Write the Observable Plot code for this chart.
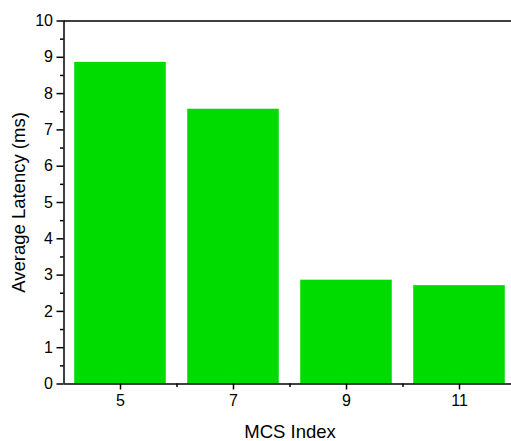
<!DOCTYPE html>
<html>
<head>
<meta charset="utf-8">
<script src="https://cdn.jsdelivr.net/npm/d3@7"></script>
<script src="https://cdn.jsdelivr.net/npm/@observablehq/plot@0.6"></script>
<style>
  html, body { margin: 0; padding: 0; background: #fff; overflow: hidden; }
  svg { display: block; }
</style>
</head>
<body>
<div id="chart"></div>
<script>
const mcsIndex = [5, 7, 9, 11];
const avgLatency = [8.86, 7.57, 2.86, 2.71];
const yMajorTicks = [0, 1, 2, 3, 4, 5, 6, 7, 8, 9, 10];
const yMinorTicks = [0.5, 1.5, 2.5, 3.5, 4.5, 5.5, 6.5, 7.5, 8.5, 9.5];
const xMajorTicks = [5, 7, 9, 11];
const xMinorTicks = [6, 8, 10];
const xTitle = "MCS Index";
const yTitle = "Average Latency (ms)";

const data = mcsIndex.map((m, i) => ({mcs: m, latency: avgLatency[i]}));
const halfWidth = 0.81;

const chart = Plot.plot({
  width: 511,
  height: 441,
  marginLeft: 63.5,
  marginRight: -4.5,
  marginTop: 20.5,
  marginBottom: 57.5,
  style: {fontFamily: "'Liberation Sans', Arial, sans-serif", fontSize: "16px", color: "#000", background: "#fff"},
  x: {domain: [4, 12]},
  y: {domain: [0, 10]},
  marks: [
    Plot.rectY(data, {x1: d => d.mcs - halfWidth, x2: d => d.mcs + halfWidth, y: "latency", fill: "#00dc00"}),
    Plot.axisY(yMinorTicks, {tickSize: 3.5, text: null, strokeWidth: 1.5, label: null}),
    Plot.axisY(yMajorTicks, {tickSize: 7, tickPadding: 4, strokeWidth: 1.5,
      label: yTitle, labelAnchor: "center", labelArrow: "none", labelOffset: 52}),
    Plot.axisX(xMinorTicks, {tickSize: 3.5, text: null, strokeWidth: 1.5, label: null}),
    Plot.axisX(xMajorTicks, {tickSize: 6, tickPadding: 5, strokeWidth: 1.5,
      label: xTitle, labelAnchor: "center", labelArrow: "none", labelOffset: 54}),
    Plot.ruleY([0, 10], {stroke: "#000", strokeWidth: 1.5}),
    Plot.ruleX([4], {stroke: "#000", strokeWidth: 1.5})
  ]
});
chart.querySelectorAll("text").forEach(t => {
  const s = t.textContent;
  if (s === xTitle || s === yTitle) t.style.fontSize = "18.5px";
  else t.style.fontSize = "16px";
});
document.getElementById("chart").appendChild(chart);
</script>
</body>
</html>
